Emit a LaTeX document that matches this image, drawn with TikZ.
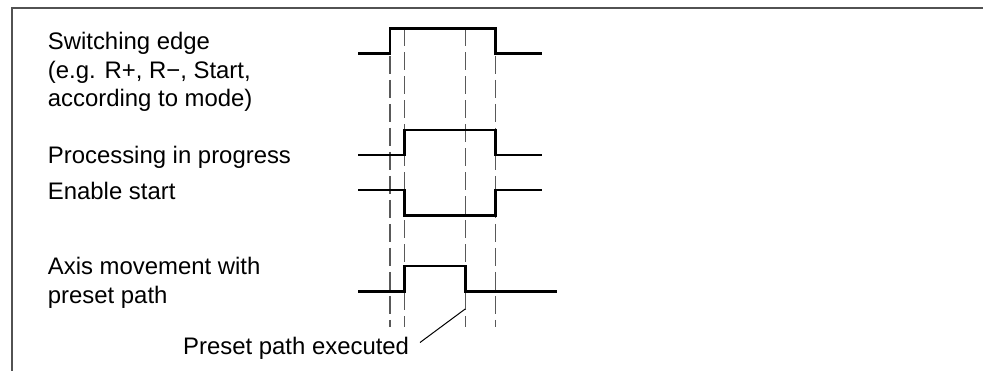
\documentclass[tikz,border=0pt]{standalone}
\usepackage{fontspec}
\setmainfont{Liberation Sans}
\begin{document}
\begin{tikzpicture}[x=1pt,y=-1pt,
  lbl/.style={anchor=base west,inner sep=0pt,align=left,font=\fontsize{23.9}{28.4}\selectfont},
  sig/.style={line width=2.5pt,line join=miter,black},
  guide/.style={line width=1.2pt,draw=black!65,dash pattern=on 18pt off 6pt},
  frame/.style={line width=2pt,draw=black!68},
  leader/.style={line width=1pt,black}]
\useasboundingbox (0,0) rectangle (983,371);
% frame
\draw[frame] (983,8.5) -- (11.5,8.5) -- (11.5,371);
% guide lines
\draw[guide] (390,56) -- (390,327);
\draw[guide] (404.3,28.5) -- (404.3,327);
\draw[guide] (465.7,28.5) -- (465.7,327);
\draw[guide] (495.7,56) -- (495.7,327);
% labels (multi-line nodes: base = last line)
\node[lbl] (sw) at (47.7,106.7) {Switching edge\\(e.g. R+, R−, Start,\\according to mode)};
\node[lbl] (proc) at (47.7,163.3) {Processing in progress};
\node[lbl] (en) at (47.7,199.3) {Enable start};
\node[lbl] (axis) at (47.7,303.4) {Axis movement with\\preset path};
\node[lbl] (done) at (183,355) {Preset path executed};
% signals
\draw[sig] (358,53.7) -- (390,53.7) -- (390,28.3) -- (495.7,28.3) -- (495.7,53.7) -- (541.7,53.7);
\draw[sig] (358,155) -- (404.3,155) -- (404.3,129.8) -- (495.7,129.8) -- (495.7,155) -- (541.7,155);
\draw[sig] (358,190) -- (404.3,190) -- (404.3,215.3) -- (495.7,215.3) -- (495.7,190) -- (541.7,190);
\draw[sig] (358,291.7) -- (404.3,291.7) -- (404.3,266) -- (465.7,266) -- (465.7,291.7) -- (556.7,291.7);
% leader
\coordinate (ldA) at (420,342.5);
\coordinate (ldB) at (465.2,309);
\draw[leader] (ldA) -- (ldB);
\end{tikzpicture}
\end{document}
